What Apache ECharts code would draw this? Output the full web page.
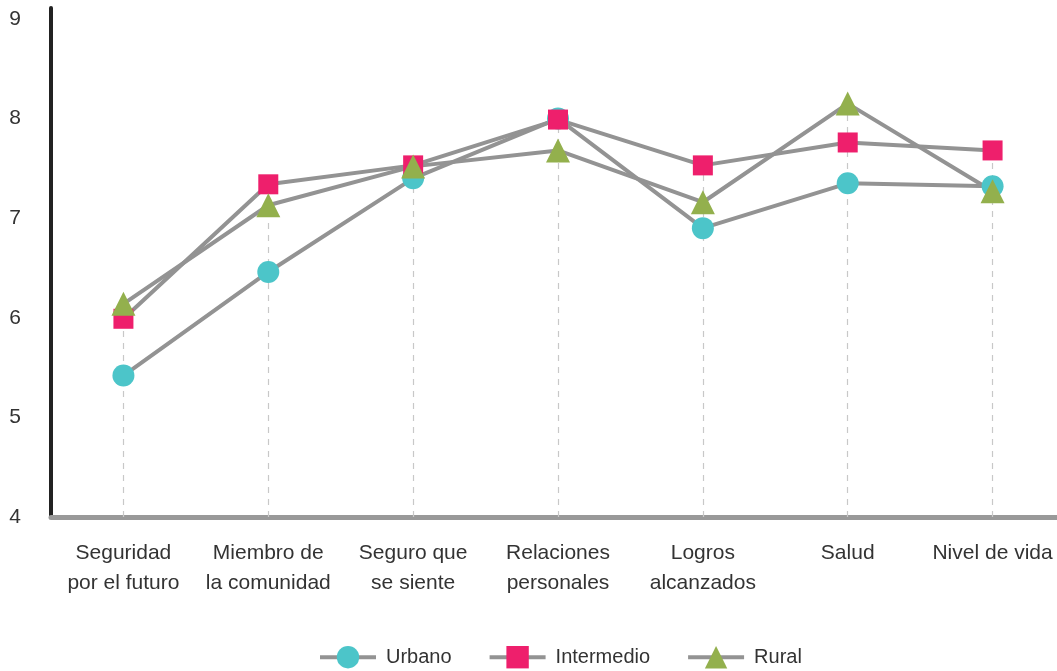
<!DOCTYPE html>
<html>
<head>
<meta charset="utf-8">
<script src="https://cdn.jsdelivr.net/npm/echarts@6/dist/echarts.min.js"></script>
<style>
  html, body { margin: 0; padding: 0; background: #fff; }
  #chart { width: 1057px; height: 671px; }
</style>
</head>
<body>
<div id="chart"></div>
<script>
var categories = ['Seguridad\npor el futuro', 'Miembro de\nla comunidad', 'Seguro que\nse siente', 'Relaciones\npersonales', 'Logros\nalcanzados', 'Salud', 'Nivel de vida']
var urbano = [5.42, 6.46, 7.40, 8.00, 6.90, 7.35, 7.32]
var intermedio = [5.99, 7.34, 7.53, 7.99, 7.53, 7.76, 7.68]
var rural = [6.14, 7.13, 7.52, 7.68, 7.16, 8.15, 7.27]

var font = 'Liberation Sans'
var chart = echarts.init(document.getElementById('chart'))

// dashed drop line from the axis up to the highest point of each category
var dropLines = categories.map(function (c, i) {
  var top = Math.max(urbano[i], intermedio[i], rural[i])
  return [{ coord: [c, 4] }, { coord: [c, top] }]
})

function lineSeries(name, data, symbol, size, color) {
  return {
    name: name,
    type: 'line',
    data: data,
    z: 3,
    symbol: symbol,
    symbolSize: size,
    showAllSymbol: true,
    lineStyle: { color: '#939393', width: 4 },
    itemStyle: { color: color, opacity: 1 },
    emphasis: { disabled: true }
  }
}

var option = {
  animation: false,
  textStyle: { fontFamily: font },
  grid: { left: 51, right: -8, top: 8, bottom: 154, containLabel: false, outerBoundsMode: 'none' },
  legend: {
    data: ['Urbano', 'Intermedio', 'Rural'],
    top: 641,
    left: 313,
    itemWidth: 56,
    itemHeight: 28,
    itemGap: 36,
    lineStyle: { width: 4 },
    textStyle: { fontFamily: font, fontSize: 20, color: '#333', padding: [0, 0, 0, 5] }
  },
  xAxis: {
    type: 'category',
    data: categories,
    boundaryGap: true,
    axisLine: { lineStyle: { color: '#999', width: 5 } },
    axisTick: { show: false },
    axisLabel: { margin: 21, fontSize: 21, lineHeight: 30, color: '#333', fontFamily: font, interval: 0 }
  },
  yAxis: {
    type: 'value',
    min: 4,
    max: 9.11,
    interval: 1,
    axisLine: { show: true, lineStyle: { color: '#222', width: 4 } },
    axisTick: { show: false },
    splitLine: { show: false },
    axisLabel: { margin: 30, fontSize: 21, color: '#333', fontFamily: font, showMaxLabel: false }
  },
  series: [
    {
      name: 'drop',
      type: 'line',
      data: [],
      z: 1,
      markLine: {
        z: 1,
        silent: true,
        symbol: 'none',
        label: { show: false },
        lineStyle: { type: [6, 6], color: '#c8c8c8', width: 1.2 },
        data: dropLines
      }
    },
    lineSeries('Urbano', urbano, 'circle', 22, '#4cc5c9'),
    lineSeries('Intermedio', intermedio, 'rect', 20, '#ee1f6c'),
    lineSeries('Rural', rural, 'triangle', 24, '#93b04d')
  ]
}
chart.setOption(option)
</script>
</body>
</html>
